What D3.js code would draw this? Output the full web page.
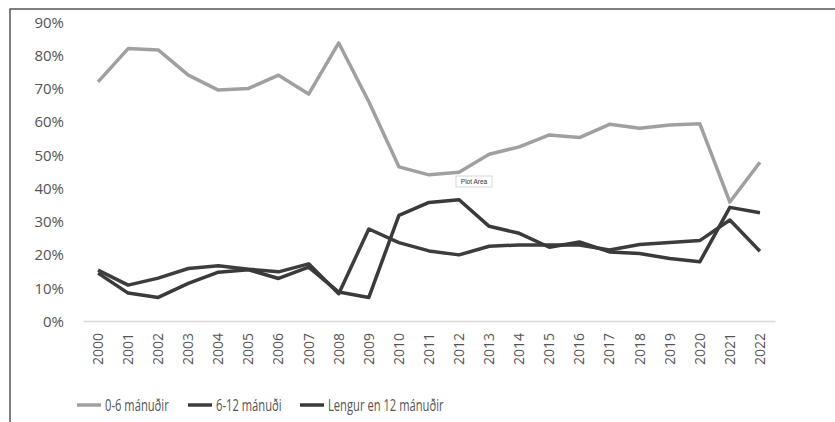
<!DOCTYPE html>
<html>
<head>
<meta charset="utf-8">
<script src="https://cdn.jsdelivr.net/npm/d3@7"></script>
<style>
  html, body { margin: 0; background: #fff; overflow: hidden; }
  svg { display: block; }
  .ytick text { font-family: "Open Sans", sans-serif; font-size: 15px; fill: #555; }
  .xtick text { font-family: "Open Sans", sans-serif; font-size: 14px; fill: #555; }
  .legend text { font-family: "Open Sans", sans-serif; font-size: 16px; fill: #555; }
</style>
</head>
<body>
<div id="viz"></div>
<script>

const years = d3.range(2000, 2023).map(String)

// 0-6 mánuðir
const short = [72, 82, 81.6, 74, 69.5, 70, 74, 68.3, 83.7, 66, 46.4, 44, 44.8, 50.2, 52.4, 56, 55.2, 59.2, 58, 59, 59.4, 35.8, 47.8]
// 6-12 mánuði
const mid = [15.3, 10.8, 12.9, 15.8, 16.6, 15.6, 14.8, 17.2, 8.2, 27.7, 23.6, 21.1, 19.9, 22.5, 22.9, 22.9, 22.9, 21.4, 23, 23.6, 24.2, 30.4, 21]
// Lengur en 12 mánuðir
const long = [14.4, 8.4, 7.1, 11.3, 14.7, 15.4, 12.8, 16.2, 8.7, 7.1, 31.8, 35.7, 36.5, 28.5, 26.4, 22.2, 23.8, 20.8, 20.3, 18.8, 17.8, 34.2, 32.6]

const yTicks = [0, 10, 20, 30, 40, 50, 60, 70, 80, 90]
const seriesNames = ["0-6 mánuðir", "6-12 mánuði", "Lengur en 12 mánuðir"]
const seriesColors = ["#a0a0a0", "#3d3d3d", "#3a3a3a"]

const width = 835
const height = 422

const svg = d3.select("#viz")
    .append("svg")
    .attr("width", width)
    .attr("height", height)

// frame of the chart: only its left and top edges are in the picture
svg.append("path")
    .attr("d", "M10," + height + "V9H" + width)
    .attr("fill", "none")
    .attr("stroke", "#555")
    .attr("stroke-width", 1.5)

const x = d3.scaleBand()
    .domain(years)
    .range([83, 775])

const y = d3.scaleLinear()
    .domain([0, 90])
    .range([321, 22])

// y axis labels
const yAxis = svg.append("g")
    .attr("class", "ytick")
    .attr("transform", "translate(64,0)")
    .call(d3.axisLeft(y).tickValues(yTicks).tickSize(0).tickPadding(0).tickFormat(d => d + "%"))
yAxis.select(".domain").remove()
yAxis.selectAll("text").attr("dy", "0.35em")

// x axis
const xAxis = svg.append("g")
    .attr("class", "xtick")
    .attr("transform", "translate(0," + y(0) + ")")
    .call(d3.axisBottom(x).tickSize(0).tickPadding(0))
xAxis.select(".domain")
    .attr("stroke", "#d9d9d9")
    .attr("stroke-width", 1.5)
xAxis.selectAll("text")
    .attr("transform", "rotate(-90)")
    .attr("text-anchor", "end")
    .attr("x", -12)
    .attr("y", 0)
    .attr("dy", "0.35em")

const line = d3.line()
    .x((d, i) => x(years[i]) + x.bandwidth() / 2)
    .y(d => y(d))

const allSeries = [short, mid, long]

svg.append("g")
    .selectAll("path")
    .data(allSeries)
    .join("path")
    .attr("fill", "none")
    .attr("stroke", (d, i) => seriesColors[i])
    .attr("stroke-width", 3.5)
    .attr("stroke-linejoin", "round")
    .attr("d", d => line(d))

// the "Plot Area" hover tag left in the screenshot
const tag = svg.append("g").attr("transform", "translate(456,176)")
tag.append("rect")
    .attr("width", 36)
    .attr("height", 11)
    .attr("fill", "#fff")
    .attr("stroke", "#ccc")
    .attr("stroke-width", 0.8)
tag.append("text")
    .attr("x", 18)
    .attr("y", 8)
    .attr("text-anchor", "middle")
    .attr("font-family", "Liberation Sans, sans-serif")
    .attr("font-size", 6.5)
    .attr("fill", "#333")
    .text("Plot Area")

// legend
const legendX = [77, 188, 300]
const legend = svg.append("g")
    .attr("class", "legend")
    .selectAll("g")
    .data(seriesNames)
    .join("g")
    .attr("transform", (d, i) => "translate(" + legendX[i] + ",405)")

legend.append("line")
    .attr("x1", 0)
    .attr("x2", 24)
    .attr("stroke", (d, i) => seriesColors[i])
    .attr("stroke-width", 3.5)

// reference font is a narrow one, so squeeze Open Sans sideways
legend.append("text")
    .attr("transform", "translate(28,0) scale(0.7,1)")
    .attr("dy", "0.35em")
    .text(d => d)

</script>
</body>
</html>
